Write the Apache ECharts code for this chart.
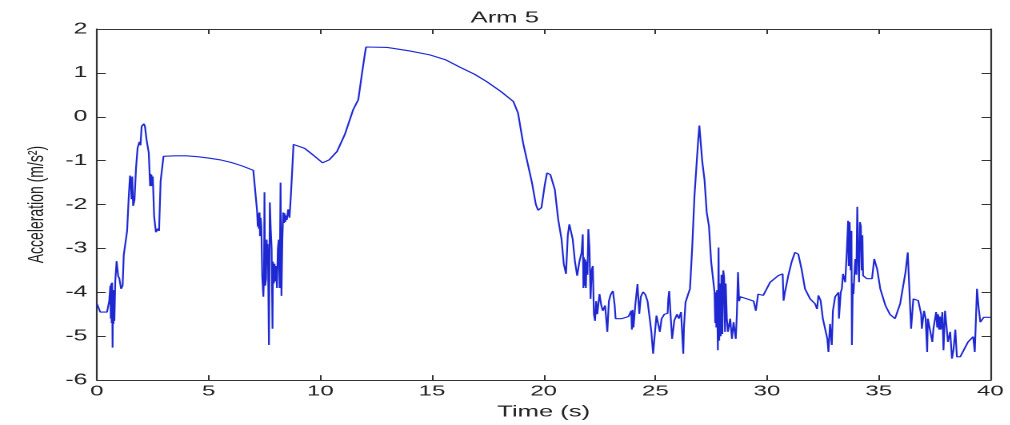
<!DOCTYPE html>
<html>
<head>
<meta charset="utf-8">
<script src="https://cdn.jsdelivr.net/npm/echarts@6/dist/echarts.min.js"></script>
<style>
html,body{margin:0;padding:0;background:#fff;overflow:hidden;}
#wrap{width:1010px;height:425px;overflow:hidden;position:relative;background:#fff;}
#chart{width:631.25px;height:425px;transform:scaleX(1.6);transform-origin:0 0;}
</style>
</head>
<body>
<div id="wrap"><div id="chart"></div></div>
<script>
const titleText = "Arm 5";
const xName = "Time (s)";
const yName = "Acceleration (m/s²)";
const xTicks = [0, 5, 10, 15, 20, 25, 30, 35, 40];
const yTicks = [-6, -5, -4, -3, -2, -1, 0, 1, 2];

const time = [
0.00,0.15,0.25,0.45,0.55,0.60,0.62,0.64,0.66,0.68,0.70,0.72,0.74,0.76,0.78,0.82,0.88,0.95,1.00,1.08,
1.15,1.20,1.30,1.35,1.42,1.48,1.52,1.55,1.58,1.62,1.68,1.75,1.82,1.90,1.95,2.00,2.10,2.15,2.22,2.32,
2.38,2.40,2.42,2.44,2.46,2.50,2.56,2.64,2.72,2.78,2.85,2.95,2.98,3.50,4.00,4.50,5.00,5.50,6.00,6.50,
7.00,7.14,7.17,7.20,7.22,7.25,7.28,7.30,7.33,7.36,7.40,7.45,7.48,7.50,7.53,7.57,7.60,7.62,7.64,7.66,
7.70,7.74,7.78,7.82,7.86,7.88,7.92,7.95,7.98,8.02,8.06,8.10,8.14,8.18,8.22,8.26,8.30,8.34,8.37,8.40,
8.43,8.46,8.50,8.56,8.62,8.68,8.74,8.80,8.90,9.30,9.70,10.10,10.40,10.75,11.10,11.47,11.70,11.87,12.00,12.05,
13.00,14.00,14.90,15.60,16.25,16.90,17.45,18.10,18.64,18.85,19.08,19.30,19.48,19.65,19.75,19.90,20.05,20.15,20.30,20.50,
20.65,20.80,20.90,21.00,21.08,21.15,21.30,21.40,21.50,21.60,21.70,21.75,21.78,21.80,21.83,21.86,21.89,21.92,21.96,22.00,
22.05,22.10,22.15,22.20,22.25,22.30,22.35,22.40,22.50,22.58,22.65,22.75,22.85,22.92,23.00,23.10,23.18,23.22,23.50,23.80,
23.92,23.95,23.98,24.02,24.10,24.20,24.28,24.35,24.45,24.55,24.65,24.75,24.82,24.90,24.95,25.05,25.20,25.28,25.40,25.55,
25.58,25.62,25.68,25.75,25.85,25.97,26.05,26.15,26.20,26.25,26.28,26.35,26.47,26.55,26.65,26.75,26.85,26.92,26.97,27.05,
27.10,27.20,27.30,27.40,27.50,27.60,27.65,27.68,27.70,27.73,27.76,27.80,27.83,27.86,27.90,27.93,27.96,28.00,28.04,28.08,
28.12,28.15,28.20,28.25,28.35,28.43,28.50,28.60,28.65,28.70,28.75,28.80,29.10,29.40,29.50,29.60,29.83,30.14,30.50,30.70,
30.74,30.80,30.85,30.95,31.10,31.25,31.40,31.55,31.70,31.93,32.15,32.24,32.30,32.40,32.50,32.70,32.75,32.82,32.90,32.95,
33.05,33.20,33.22,33.30,33.35,33.40,33.50,33.57,33.63,33.66,33.70,33.74,33.78,33.80,33.84,33.87,33.92,33.95,34.00,34.04,
34.08,34.12,34.16,34.20,34.24,34.27,34.30,34.47,34.70,34.80,34.93,35.07,35.30,35.50,35.73,35.96,36.20,36.30,36.40,36.45,
36.55,36.77,36.90,36.93,37.03,37.10,37.17,37.20,37.40,37.45,37.57,37.62,37.66,37.70,37.74,37.78,37.85,37.90,37.97,38.10,
38.20,38.28,38.35,38.43,38.50,38.65,39.00,39.23,39.30,39.40,39.47,39.55,39.70,40.00
];

const accel = [
-4.26,-4.45,-4.49,-4.45,-4.20,-3.85,-4.60,-3.80,-4.70,-3.78,-5.26,-4.10,-4.72,-3.95,-4.65,-3.75,-3.29,-3.63,-3.68,-3.92,
-3.85,-3.15,-3.15,-2.60,-1.86,-1.34,-1.50,-1.88,-1.36,-2.03,-1.90,-1.16,-0.71,-0.57,-0.65,-0.22,-0.16,-0.22,-0.52,-0.82,
-1.58,-1.30,-1.55,-1.32,-1.58,-1.36,-2.27,-2.63,-2.55,-2.60,-1.47,-1.45,-0.90,-0.89,-0.89,-0.91,-0.94,-0.98,-1.04,-1.12,
-1.22,-1.25,-2.15,-2.50,-2.20,-2.55,-2.18,-2.72,-2.30,-2.50,-3.63,-4.10,-3.60,-1.72,-3.85,-3.70,-2.80,-3.30,-2.90,-3.25,
-5.20,-1.95,-2.56,-3.00,-4.83,-3.30,-3.80,-3.35,-3.75,-3.40,-3.90,-3.00,-2.80,-3.90,-1.50,-4.08,-2.80,-2.18,-2.42,-2.20,
-2.40,-2.25,-2.35,-2.11,-2.30,-1.81,-1.24,-0.63,-0.63,-0.72,-0.88,-1.05,-0.98,-0.79,-0.40,0.16,0.39,1.00,1.45,1.59,
1.58,1.50,1.41,1.30,1.13,0.97,0.80,0.57,0.35,0.09,-0.60,-1.10,-1.51,-2.00,-2.13,-2.07,-1.55,-1.28,-1.32,-1.66,
-2.34,-2.79,-3.35,-3.58,-2.70,-2.45,-2.79,-3.30,-3.62,-3.30,-3.09,-2.68,-3.90,-3.20,-3.85,-3.25,-3.90,-3.30,-3.60,-2.56,
-3.00,-4.15,-3.50,-3.40,-4.50,-4.65,-4.20,-4.50,-4.04,-4.30,-4.42,-4.30,-4.90,-4.20,-4.05,-3.97,-4.30,-4.60,-4.60,-4.55,
-4.42,-4.85,-4.40,-4.80,-4.30,-3.81,-4.49,-4.10,-3.99,-4.05,-4.20,-4.60,-4.90,-5.40,-5.10,-4.53,-4.90,-4.60,-4.50,-4.48,
-4.15,-3.97,-4.50,-5.06,-4.64,-4.50,-4.60,-4.45,-4.43,-5.40,-4.80,-4.23,-4.04,-3.92,-2.98,-1.81,-1.05,-0.52,-0.20,-0.20,
-1.02,-1.43,-2.18,-2.49,-3.31,-3.31,-4.00,-4.70,-4.00,-4.80,-3.95,-5.32,-2.98,-5.10,-3.80,-5.00,-3.60,-4.95,-3.50,-3.66,
-4.90,-3.80,-4.60,-4.90,-4.60,-5.06,-4.68,-5.06,-4.50,-3.54,-4.20,-4.10,-4.15,-4.20,-4.42,-4.04,-4.07,-3.77,-3.62,-3.58,
-4.19,-4.00,-3.88,-3.62,-3.31,-3.09,-3.13,-3.48,-3.92,-4.15,-4.26,-4.38,-4.07,-4.19,-4.60,-5.06,-5.36,-4.72,-5.20,-4.42,
-4.10,-4.00,-4.60,-4.00,-3.92,-3.58,-3.77,-3.09,-2.37,-3.40,-2.40,-3.50,-2.60,-5.20,-3.80,-4.04,-3.50,-3.24,-3.60,-2.05,
-3.20,-3.77,-2.40,-2.49,-3.50,-2.70,-3.62,-3.69,-3.69,-3.24,-3.47,-3.92,-4.30,-4.50,-4.60,-4.26,-3.54,-3.09,-3.06,-4.83,
-4.15,-4.19,-4.50,-4.83,-4.42,-4.60,-5.36,-4.60,-5.13,-4.83,-4.45,-4.80,-4.50,-4.85,-4.55,-4.85,-4.45,-5.32,-4.42,-5.13,
-4.90,-5.51,-5.30,-4.85,-5.47,-5.47,-5.13,-5.01,-5.36,-3.92,-4.34,-4.68,-4.57,-4.57
];

const seriesData = time.map((t, i) => [t, accel[i]]);

const FONT = '"Liberation Sans", Arial, Helvetica, sans-serif';
const axisColor = '#333';
const labelColor = '#222';

const chart = echarts.init(document.getElementById('chart'), null, {renderer: 'canvas', devicePixelRatio: 2});

function baseX(pos, showLabel) {
  return {
    type: 'value', position: pos, min: xTicks[0], max: xTicks[xTicks.length-1], interval: 5,
    axisLine: {show: true, onZero: false, lineStyle: {color: axisColor, width: 1.1}},
    axisTick: {show: true, inside: true, length: 5, lineStyle: {color: axisColor, width: 1}},
    axisLabel: {show: showLabel, color: labelColor, fontSize: 15, fontFamily: FONT, margin: 4},
    splitLine: {show: false}
  };
}
function baseY(pos, showLabel) {
  return {
    type: 'value', position: pos, min: yTicks[0], max: yTicks[yTicks.length-1], interval: 1,
    axisLine: {show: true, onZero: false, lineStyle: {color: axisColor, width: 1.1}},
    axisTick: {show: true, inside: true, length: 5.5, lineStyle: {color: axisColor, width: 1}},
    axisLabel: {show: showLabel, color: labelColor, fontSize: 15.5, fontFamily: FONT, margin: 6},
    splitLine: {show: false}
  };
}

const x0 = baseX('bottom', true);
x0.name = xName; x0.nameLocation = 'middle'; x0.nameGap = 20;
x0.nameTextStyle = {color: labelColor, fontSize: 16, fontFamily: FONT};
const x1 = baseX('top', false);
const y0 = baseY('left', true);
y0.name = yName; y0.nameLocation = 'middle'; y0.nameGap = 30;
y0.nameTextStyle = {color: labelColor, fontSize: 14, fontFamily: FONT};
const y1 = baseY('right', false);

chart.setOption({
  backgroundColor: '#fff',
  animation: false,
  title: {
    text: titleText, left: 'center', top: 5,
    textStyle: {fontSize: 16, fontWeight: 'normal', color: labelColor, fontFamily: FONT}
  },
  grid: {left: 60.6, right: 12, top: 29, bottom: 43, containLabel: false},
  xAxis: [x0, x1],
  yAxis: [y0, y1],
  series: [{
    type: 'line', xAxisIndex: 0, yAxisIndex: 0,
    data: seriesData, showSymbol: false, symbol: 'none',
    lineStyle: {color: '#1e28d2', width: 1.1},
    itemStyle: {color: '#1e28d2'}
  }]
});
</script>
</body>
</html>
